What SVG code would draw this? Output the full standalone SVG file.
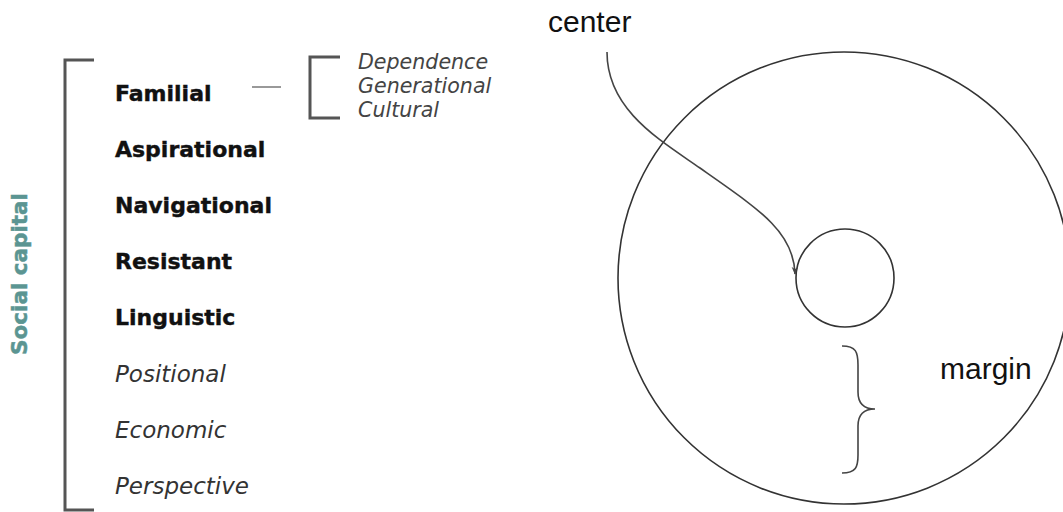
<svg xmlns="http://www.w3.org/2000/svg" width="1063" height="512" viewBox="0 0 1063 512">
  <style>
    .bold { font-family: "DejaVu Sans", sans-serif; font-weight: bold; font-size: 22px; fill: #111; stroke: #111; stroke-width: 0.4; }
    .ital { font-family: "DejaVu Sans", sans-serif; font-style: italic; font-size: 23px; fill: #333; }
    .sub { font-family: "DejaVu Sans", sans-serif; font-style: italic; font-size: 20.6px; fill: #444; }
    .label { font-family: "Liberation Sans", Arial, sans-serif; font-size: 30px; fill: #111; }
    .bracket { fill: none; stroke: #555; stroke-width: 3; }
    .thin { fill: none; stroke: #444; stroke-width: 1.6; }
  </style>
  <defs>
    <marker id="arrow" viewBox="0 0 10 10" refX="9" refY="5" markerWidth="8" markerHeight="8" orient="auto" markerUnits="userSpaceOnUse">
      <path d="M0,1 L10,5 L0,9 L3,5 Z" fill="#444"/>
    </marker>
  </defs>

  <rect width="1063" height="512" fill="#fff"/>

  <!-- vertical category label -->
  <g id="social-capital">
    <text transform="translate(27,274) rotate(-90)" text-anchor="middle" font-family="DejaVu Sans, sans-serif" font-weight="bold" font-size="21.5" fill="#5b9592" stroke="#5b9592" stroke-width="0.5">Social capital</text>
    <path class="bracket" d="M94,60 H65 V510 H94"/>
  </g>

  <!-- list of capitals -->
  <g id="familial"><text class="bold" x="115" y="101">Familial</text></g>
  <g id="aspirational"><text class="bold" x="115" y="157">Aspirational</text></g>
  <g id="navigational"><text class="bold" x="115" y="213">Navigational</text></g>
  <g id="resistant"><text class="bold" x="115" y="269">Resistant</text></g>
  <g id="linguistic"><text class="bold" x="115" y="325">Linguistic</text></g>
  <g id="positional"><text class="ital" x="115" y="382">Positional</text></g>
  <g id="economic"><text class="ital" x="115" y="438">Economic</text></g>
  <g id="perspective"><text class="ital" x="115" y="494">Perspective</text></g>

  <!-- familial sub-types -->
  <g id="familial-types">
    <path class="bracket" d="M340,57 H310 V118 H340"/>
    <text class="sub" x="358" y="69">Dependence</text>
    <text class="sub" x="358" y="93">Generational</text>
    <text class="sub" x="358" y="117">Cultural</text>
  </g>

  <!-- center / margin rings -->
  <g id="margin-ring">
    <circle cx="844" cy="278" r="226" fill="none" stroke="#333" stroke-width="1.6"/>
    <text class="label" x="940" y="379">margin</text>
    <path class="thin" stroke="#666" d="M842,346 C856,346 858,352 858,365 V392 C858,404 864,409 875,409 C864,409 858,414 858,426 V455 C858,467 856,473 842,473"/>
  </g>
  <g id="center-ring">
    <circle cx="845" cy="278" r="49" fill="none" stroke="#333" stroke-width="1.6"/>
    <text class="label" x="548" y="32">center</text>
  </g>

  <g id="connectors">
    <line x1="252" y1="87" x2="281" y2="87" stroke="#777" stroke-width="1.5"/>
    <path class="thin" d="M607,52 C607,110 660,140 700,168 C760,210 794,232 795,274" marker-end="url(#arrow)"/>
  </g>
</svg>
